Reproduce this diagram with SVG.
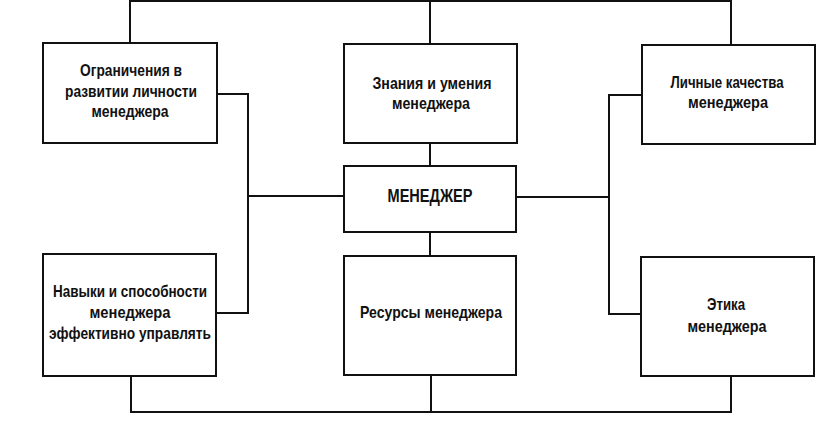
<svg xmlns="http://www.w3.org/2000/svg" width="835" height="435" viewBox="0 0 835 435">
<style>
.box{fill:#fff;stroke:#111;stroke-width:2}
.ln{fill:none;stroke:#111;stroke-width:2;stroke-linecap:square}
text{font-family:"Liberation Sans",Arial,sans-serif;font-size:17px;font-weight:bold;fill:#111;text-anchor:middle}
</style>
<rect width="835" height="435" fill="#fff"/>
<g id="connectors">
<polyline class="ln" points="130,43 130,1 731,1 731,45"/>
<line class="ln" x1="430" y1="1" x2="430" y2="44"/>
<line class="ln" x1="430" y1="143" x2="430" y2="166"/>
<line class="ln" x1="430" y1="232" x2="430" y2="256"/>
<polyline class="ln" points="217,94 248,94 248,313 216,313"/>
<line class="ln" x1="248" y1="196" x2="344" y2="196"/>
<polyline class="ln" points="642,95 609,95 609,314 641,314"/>
<line class="ln" x1="516" y1="197" x2="609" y2="197"/>
<polyline class="ln" points="131,376 131,412 731,412 731,376"/>
<line class="ln" x1="431" y1="375" x2="431" y2="412"/>
</g>
<g id="n-limits">
<rect class="box" x="43" y="43" width="174" height="100"/>
<text x="131" y="76" textLength="102" lengthAdjust="spacingAndGlyphs">Ограничения в</text>
<text x="131" y="97" textLength="132" lengthAdjust="spacingAndGlyphs">развитии личности</text>
<text x="130" y="117" textLength="77" lengthAdjust="spacingAndGlyphs">менеджера</text>
</g>
<g id="n-knowledge">
<rect class="box" x="344" y="44" width="173" height="99"/>
<text x="432" y="89" textLength="119" lengthAdjust="spacingAndGlyphs">Знания и умения</text>
<text x="431" y="109" textLength="78" lengthAdjust="spacingAndGlyphs">менеджера</text>
</g>
<g id="n-qualities">
<rect class="box" x="642" y="45" width="173" height="99"/>
<text x="727" y="88" textLength="113" lengthAdjust="spacingAndGlyphs">Личные качества</text>
<text x="728" y="108" textLength="80" lengthAdjust="spacingAndGlyphs">менеджера</text>
</g>
<g id="n-manager">
<rect class="box" x="344" y="166" width="172" height="66"/>
<text x="430" y="202" textLength="85" lengthAdjust="spacingAndGlyphs" style="font-size:18px">МЕНЕДЖЕР</text>
</g>
<g id="n-skills">
<rect class="box" x="43" y="254" width="173" height="122"/>
<text x="130" y="297" textLength="154" lengthAdjust="spacingAndGlyphs">Навыки и способности</text>
<text x="130" y="318" textLength="81" lengthAdjust="spacingAndGlyphs">менеджера</text>
<text x="130" y="339" textLength="162" lengthAdjust="spacingAndGlyphs">эффективно управлять</text>
</g>
<g id="n-resources">
<rect class="box" x="344" y="256" width="172" height="119"/>
<text x="431" y="318" textLength="142" lengthAdjust="spacingAndGlyphs">Ресурсы менеджера</text>
</g>
<g id="n-ethics">
<rect class="box" x="641" y="257" width="173" height="119"/>
<text x="726" y="310" textLength="38" lengthAdjust="spacingAndGlyphs">Этика</text>
<text x="727" y="332" textLength="79" lengthAdjust="spacingAndGlyphs">менеджера</text>
</g>
</svg>
